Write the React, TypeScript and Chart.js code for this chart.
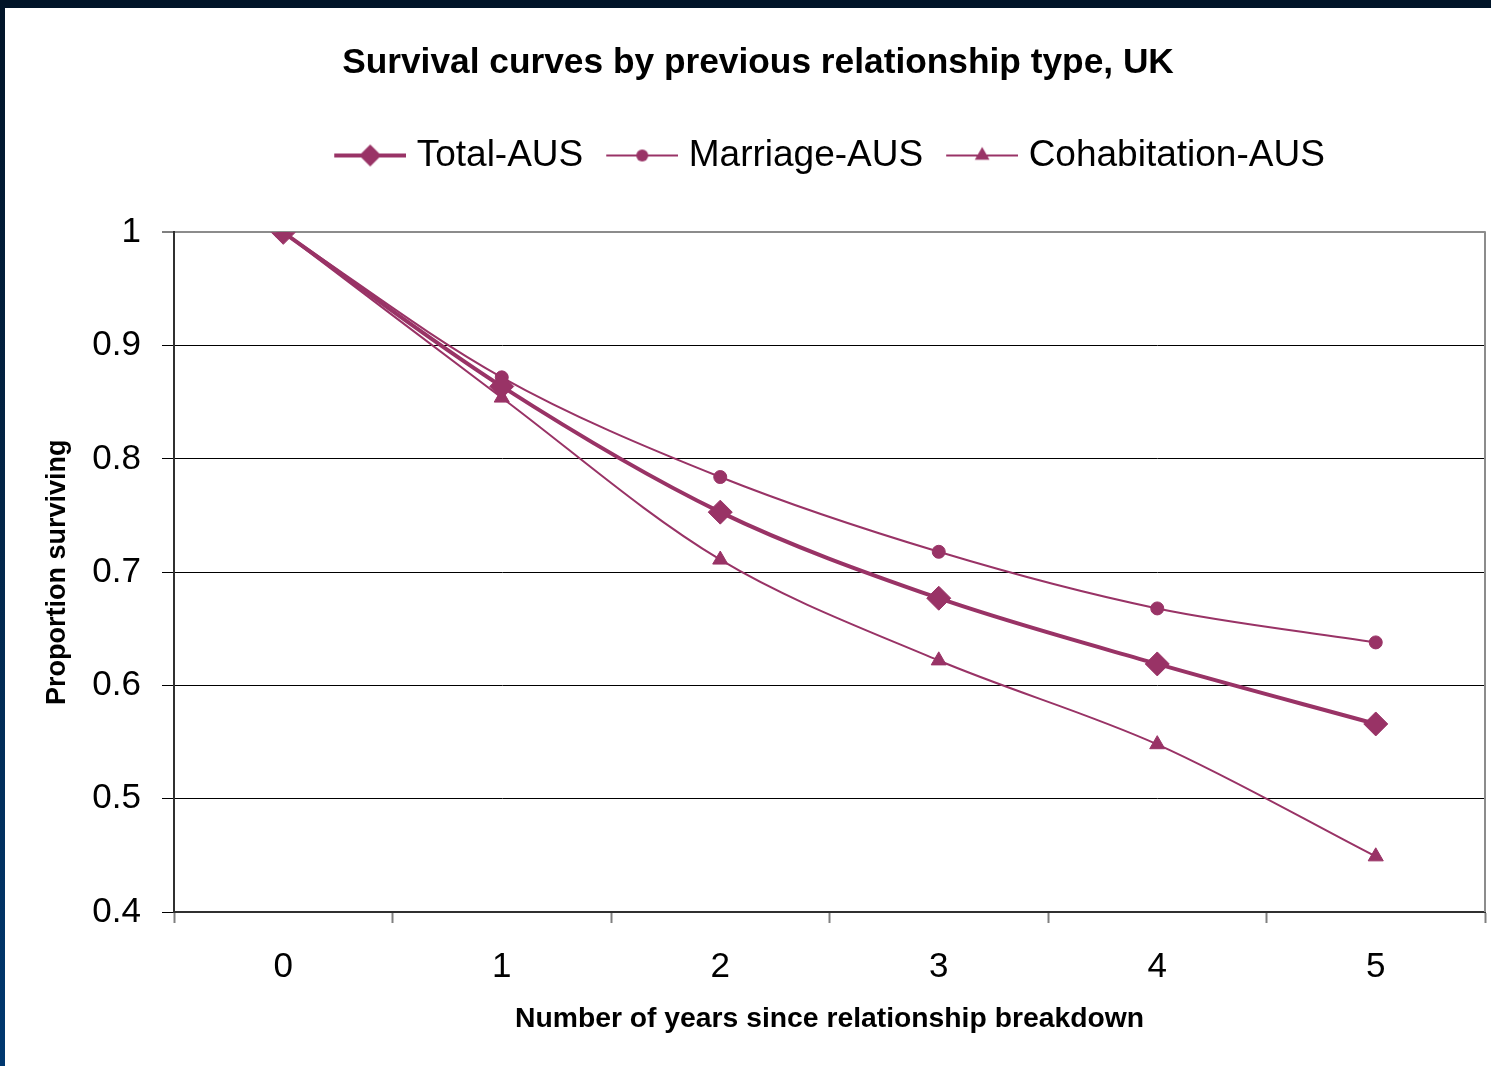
import React, { useEffect, useRef } from 'react';
import { Chart, registerables } from 'chart.js';

Chart.register(...registerables);

const years = ['0', '1', '2', '3', '4', '5'];
const totalAUS = [1.0, 0.864, 0.753, 0.677, 0.619, 0.566];
const marriageAUS = [1.0, 0.872, 0.784, 0.718, 0.668, 0.638];
const cohabitationAUS = [1.0, 0.854, 0.711, 0.622, 0.548, 0.449];
const seriesNames = ['Total-AUS', 'Marriage-AUS', 'Cohabitation-AUS'];
const yMin = 0.4;
const yMax = 1.0;
const yStep = 0.1;
const chartTitle = 'Survival curves by previous relationship type, UK';
const xAxisTitle = 'Number of years since relationship breakdown';
const yAxisTitle = 'Proportion surviving';

const PLUM = '#993366';
const FONT = "'Liberation Sans', Arial, sans-serif";

function makeIcon(style: string, lineWidth: number, radius: number): HTMLCanvasElement {
  const c = document.createElement('canvas');
  c.width = 80;
  c.height = 30;
  const g = c.getContext('2d')!;
  g.strokeStyle = PLUM;
  g.fillStyle = PLUM;
  g.lineWidth = lineWidth;
  g.beginPath();
  g.moveTo(8, 15);
  g.lineTo(80, 15);
  g.stroke();
  const cx = 44;
  const cy = 15;
  g.beginPath();
  if (style === 'rectRot') {
    g.moveTo(cx - radius, cy);
    g.lineTo(cx, cy - radius);
    g.lineTo(cx + radius, cy);
    g.lineTo(cx, cy + radius);
    g.closePath();
  } else if (style === 'circle') {
    g.arc(cx, cy, radius, 0, Math.PI * 2);
  } else {
    const r = radius;
    g.moveTo(cx, cy - r);
    g.lineTo(cx + r * Math.sin((2 * Math.PI) / 3), cy - r * Math.cos((2 * Math.PI) / 3));
    g.lineTo(cx + r * Math.sin((4 * Math.PI) / 3), cy - r * Math.cos((4 * Math.PI) / 3));
    g.closePath();
  }
  g.fill();
  return c;
}

export default function App() {
  const ref = useRef<HTMLCanvasElement | null>(null);

  useEffect(() => {
    if (!ref.current) return;
    Chart.defaults.font.family = FONT;
    const icons = [
      makeIcon('rectRot', 4, 11),
      makeIcon('circle', 2, 6),
      makeIcon('triangle', 2, 8.5),
    ];

    const frame = {
      id: 'frame',
      beforeDatasetsDraw(chart: any) {
        const { ctx, chartArea: a } = chart;
        ctx.save();
        ctx.strokeStyle = '#8c8c8c';
        ctx.lineWidth = 2;
        ctx.beginPath();
        ctx.moveTo(a.right, a.top - 1);
        ctx.lineTo(a.right, a.bottom);
        ctx.stroke();
        ctx.restore();
      },
    };

    const legendGap = {
      id: 'legendGap',
      beforeInit(chart: any) {
        const legend = chart.legend;
        if (!legend) return;
        const orig = legend.fit;
        legend.fit = function () {
          orig.call(this);
          this.height += 48.4;
        };
      },
    };

    const chart = new Chart(ref.current, {
      type: 'line',
      data: {
        labels: years,
        datasets: [
          {
            label: seriesNames[0],
            data: totalAUS,
            borderColor: PLUM,
            backgroundColor: PLUM,
            borderWidth: 4,
            pointStyle: 'rectRot',
            pointRadius: 12,
            pointBorderWidth: 1,
            pointBackgroundColor: PLUM,
            pointBorderColor: PLUM,
            tension: 0.33,
          },
          {
            label: seriesNames[1],
            data: marriageAUS,
            borderColor: PLUM,
            backgroundColor: PLUM,
            borderWidth: 2,
            pointStyle: 'circle',
            pointRadius: 6.5,
            pointBorderWidth: 1,
            pointBackgroundColor: PLUM,
            pointBorderColor: PLUM,
            tension: 0.33,
          },
          {
            label: seriesNames[2],
            data: cohabitationAUS,
            borderColor: PLUM,
            backgroundColor: PLUM,
            borderWidth: 2,
            pointStyle: 'triangle',
            pointRadius: 8.7,
            pointBorderWidth: 1,
            pointBackgroundColor: PLUM,
            pointBorderColor: PLUM,
            tension: 0.33,
          },
        ],
      },
      options: {
        responsive: false,
        animation: false,
        devicePixelRatio: 1,
        layout: { autoPadding: false, padding: { left: 26, right: 6, top: 0, bottom: 0 } },
        plugins: {
          title: {
            display: true,
            text: chartTitle,
            color: '#000',
            font: { size: 35.3, weight: 'bold', family: FONT },
            padding: { top: 34, bottom: 29.6 },
          },
          legend: {
            display: true,
            position: 'top',
            fullSize: false,
            labels: {
              color: '#000',
              font: { size: 37, family: FONT },
              padding: 23,
              usePointStyle: true,
              pointStyleWidth: 64,
              generateLabels: (c: any) => {
                const items = (Chart.defaults.plugins.legend.labels as any).generateLabels(c);
                return items.map((it: any, i: number) => ({
                  ...it,
                  pointStyle: icons[i],
                  fontColor: '#000',
                  rotation: 0,
                }));
              },
            },
          },
          tooltip: { enabled: false },
        },
        scales: {
          x: {
            type: 'category',
            offset: true,
            grid: {
              offset: true,
              drawOnChartArea: false,
              drawTicks: true,
              tickLength: 11,
              tickColor: '#808080',
              tickWidth: 2,
            },
            border: { display: true, color: '#303030', width: 2 },
            ticks: {
              color: '#000',
              font: { size: 35, family: FONT },
              padding: 23,
              maxRotation: 0,
              autoSkip: false,
            },
            title: {
              display: true,
              text: xAxisTitle,
              color: '#000',
              font: { size: 28.3, weight: 'bold', family: FONT },
              padding: { top: 0, bottom: 30 },
            },
            afterFit: (s: any) => {
              s.height = 154;
              s.paddingLeft = 0;
              s.paddingRight = 0;
            },
          },
          y: {
            min: yMin,
            max: yMax,
            grid: {
              color: (ctx: any) => (ctx.tick && Math.abs(ctx.tick.value - yMax) < 1e-9 ? '#8c8c8c' : '#000'),
              lineWidth: (ctx: any) => (ctx.tick && Math.abs(ctx.tick.value - yMax) < 1e-9 ? 2 : 1),
              tickColor: '#000',
              tickLength: 12,
              tickWidth: 1,
            },
            border: { display: true, color: '#303030', width: 2 },
            ticks: {
              stepSize: yStep,
              color: '#000',
              font: { size: 35, family: FONT },
              padding: 21,
              callback: (v: any) => String(Number(Number(v).toFixed(1))),
            },
            title: {
              display: true,
              text: yAxisTitle,
              color: '#000',
              font: { size: 27, weight: 'bold', family: FONT },
              padding: { top: 10, bottom: 0 },
            },
            afterFit: (s: any) => {
              s.width = 143;
            },
          },
        },
      },
      plugins: [frame, legendGap],
    } as any);

    return () => chart.destroy();
  }, []);

  return (
    <div
      style={{
        position: 'fixed',
        left: 0,
        top: 0,
        width: 1491,
        height: 1066,
        background: 'linear-gradient(to bottom, #011428 0%, #02264a 50%, #003870 100%)',
        overflow: 'hidden',
      }}
    >
      <div style={{ position: 'absolute', left: 5, top: 8, width: 1486, height: 1058, background: '#fff' }}>
        <canvas ref={ref} width={1486} height={1058} style={{ display: 'block' }} />
      </div>
    </div>
  );
}
